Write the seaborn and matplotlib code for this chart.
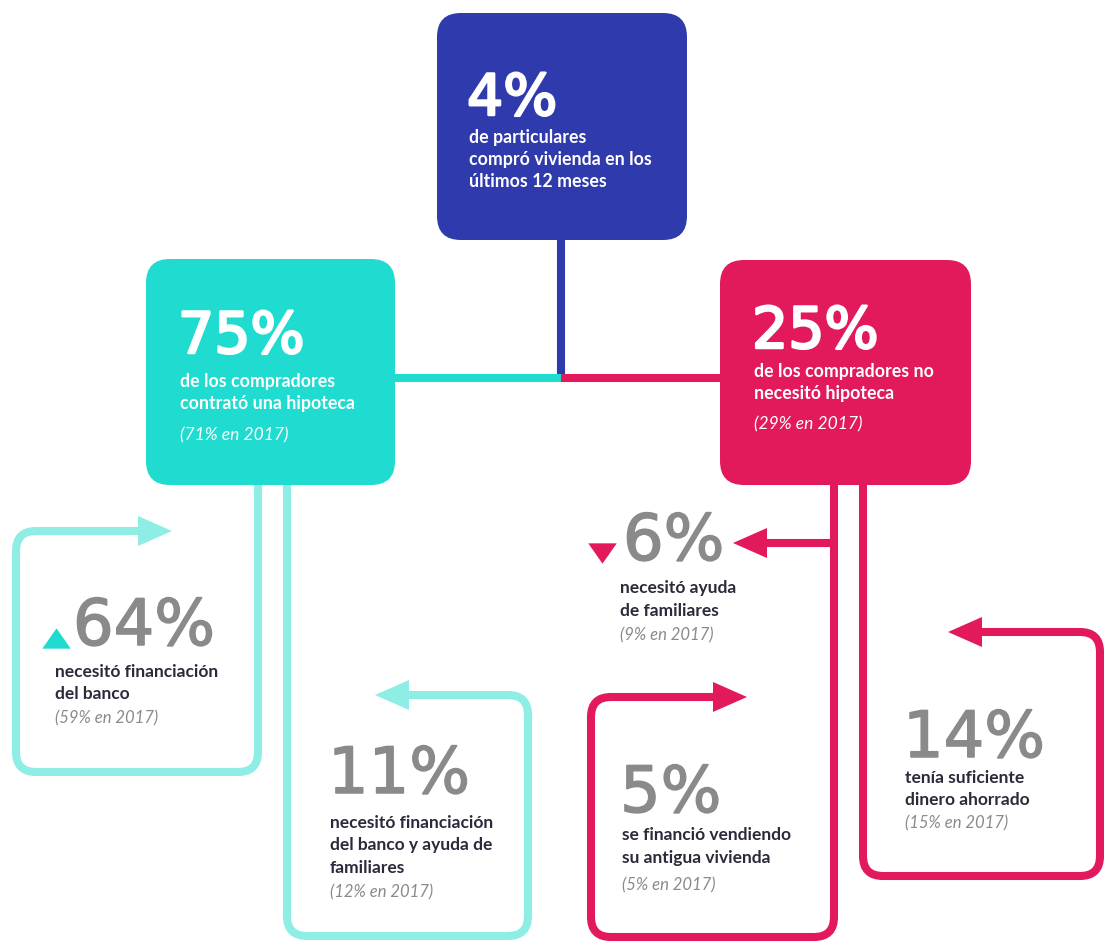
import numpy as np
import matplotlib
matplotlib.use("Agg")
import matplotlib.pyplot as plt
import matplotlib.patheffects as pe
import seaborn as sns
from matplotlib.path import Path
from matplotlib.patches import PathPatch, FancyBboxPatch, Polygon

sns.set_style("white")
plt.rcParams['font.family'] = ['Lato', 'DejaVu Sans']
NUMFONT = ['DejaVu Sans']

# datos
main_pct = ["4%", "75%", "25%"]
main_desc = [["de particulares", "compró vivienda en los", "últimos 12 meses"],
             ["de los compradores", "contrató una hipoteca"],
             ["de los compradores no", "necesitó hipoteca"]]
main_prev = [None, "(71% en 2017)", "(29% en 2017)"]

sub_pct = ["64%", "6%", "11%", "5%", "14%"]
sub_desc = [["necesitó financiación", "del banco"],
            ["necesitó ayuda", "de familiares"],
            ["necesitó financiación", "del banco y ayuda de", "familiares"],
            ["se financió vendiendo", "su antigua vivienda"],
            ["tenía suficiente", "dinero ahorrado"]]
sub_prev = ["(59% en 2017)", "(9% en 2017)", "(12% en 2017)", "(5% en 2017)", "(15% en 2017)"]
sub_trend = ["up", "down", None, None, None]

# colores
BLUE = "#2F3AAD"
TEAL = "#20DBCF"
LTEAL = "#8EEEE6"
PINK = "#E2195B"
GRAY = "#8A8A8A"
DARK = "#2B2A3A"

fig = plt.figure(figsize=(11.04, 9.42), dpi=100)
ax = fig.add_axes([0, 0, 1, 1])
ax.set_xlim(0, 1104)
ax.set_ylim(942, 0)
ax.axis("off")

LW = 5.8


def rounded(pts, r=20):
    verts = [pts[0]]
    codes = [Path.MOVETO]
    for i in range(1, len(pts) - 1):
        p0, p1, p2 = (np.array(pts[j], float) for j in (i - 1, i, i + 1))
        d1 = (p1 - p0) / np.linalg.norm(p1 - p0)
        d2 = (p2 - p1) / np.linalg.norm(p2 - p1)
        verts += [p1 - d1 * r, p1, p1 + d2 * r]
        codes += [Path.LINETO, Path.CURVE3, Path.CURVE3]
    verts.append(pts[-1])
    codes.append(Path.LINETO)
    return Path(verts, codes)


def connector(pts, color, hl=34, hw=15):
    tip = np.array(pts[-1], float)
    prev = np.array(pts[-2], float)
    d = (tip - prev) / np.linalg.norm(tip - prev)
    base = tip - d * hl
    body = list(pts[:-1]) + [tuple(base + d * 2)]
    ax.add_patch(PathPatch(rounded(body), fill=False, ec=color, lw=LW,
                           capstyle="butt", joinstyle="miter", zorder=1))
    n = np.array([-d[1], d[0]])
    ax.add_patch(Polygon([tip, base + n * hw, base - n * hw], closed=True,
                         fc=color, ec="none", zorder=1))


def box(x0, y0, x1, y1, color):
    ax.add_patch(FancyBboxPatch((x0, y0), x1 - x0, y1 - y0,
                                boxstyle="round,pad=0,rounding_size=24",
                                fc=color, ec="none", zorder=3))


# lineas principales
ax.plot([561, 561], [230, 378], color=BLUE, lw=LW, solid_capstyle="butt", zorder=2)
ax.plot([390, 561], [378, 378], color=TEAL, lw=LW, solid_capstyle="butt", zorder=2)
ax.plot([561, 725], [378, 378], color=PINK, lw=LW, solid_capstyle="butt", zorder=2)

# conectores
connector([(258, 470), (258, 772), (16, 772), (16, 531), (172, 531)], LTEAL)
connector([(287, 470), (287, 936), (528, 936), (528, 695), (375, 695)], LTEAL)
connector([(834, 470), (834, 937), (591, 937), (591, 697), (747, 697)], PINK)
connector([(834, 543), (733, 543)], PINK)
connector([(863, 470), (863, 876), (1100, 876), (1100, 632), (948, 632)], PINK)

# cajas
box(437, 13, 687, 240, BLUE)
box(146, 259, 395, 485, TEAL)
box(720, 260, 971, 485, PINK)

# texto cajas principales
main_pos = [(469, 115, [143, 165, 187], None),
            (180, 353, [387, 409], 440),
            (754, 348, [377, 399], 429)]
for pct, desc, prev, (x, yb, ys, yp) in zip(main_pct, main_desc, main_prev, main_pos):
    ax.text(x - 2, yb, pct, color="white", fontsize=41, fontweight="normal",
            family=NUMFONT, va="baseline", ha="left", zorder=4,
            path_effects=[pe.Stroke(linewidth=1.8, foreground="white"), pe.Normal()])
    for line, y in zip(desc, ys):
        ax.text(x, y, line, color="white", fontsize=12.8, fontweight="bold",
                va="baseline", ha="left", zorder=4)
    if prev:
        ax.text(x, yp, prev, color="white", fontsize=12.5, style="italic",
                va="baseline", ha="left", zorder=4)

# texto subcajas
sub_pos = [(73, 645, 55, [677, 699], 723),
           (623, 560, 620, [593, 616], 640),
           (328, 793, 330, [828, 850, 873], 897),
           (620, 812, 622, [840, 863], 890),
           (903, 757, 905, [783, 805], 828)]
for pct, desc, prev, (xn, yb, x, ys, yp) in zip(sub_pct, sub_desc, sub_prev, sub_pos):
    ax.text(xn, yb, pct, color=GRAY, fontsize=46, fontweight="normal",
            family=NUMFONT, va="baseline", ha="left", zorder=4,
            path_effects=[pe.Stroke(linewidth=1.1, foreground=GRAY), pe.Normal()])
    for line, y in zip(desc, ys):
        ax.text(x, y, line, color=DARK, fontsize=12.5, fontweight="bold",
                va="baseline", ha="left", zorder=4)
    ax.text(x, yp, prev, color=GRAY, fontsize=12, style="italic",
            va="baseline", ha="left", zorder=4)

# tendencias
TRI_UP = [(-1.4, -1), (1.4, -1), (0, 1)]
TRI_DOWN = [(-1.4, 1), (1.4, 1), (0, -1)]
trend_x = [56, 602]
trend_y = [638, 553]
for tr, tx, ty in zip(sub_trend, trend_x, trend_y):
    if tr == "up":
        sns.scatterplot(x=[tx], y=[ty], marker=TRI_UP, s=420, color=TEAL,
                        linewidth=0, ax=ax, zorder=4, legend=False)
    elif tr == "down":
        sns.scatterplot(x=[tx], y=[ty], marker=TRI_DOWN, s=420, color=PINK,
                        linewidth=0, ax=ax, zorder=4, legend=False)

ax.set_xlim(0, 1104)
ax.set_ylim(942, 0)
ax.axis("off")
fig.savefig("out.png", dpi=100, facecolor="white")
